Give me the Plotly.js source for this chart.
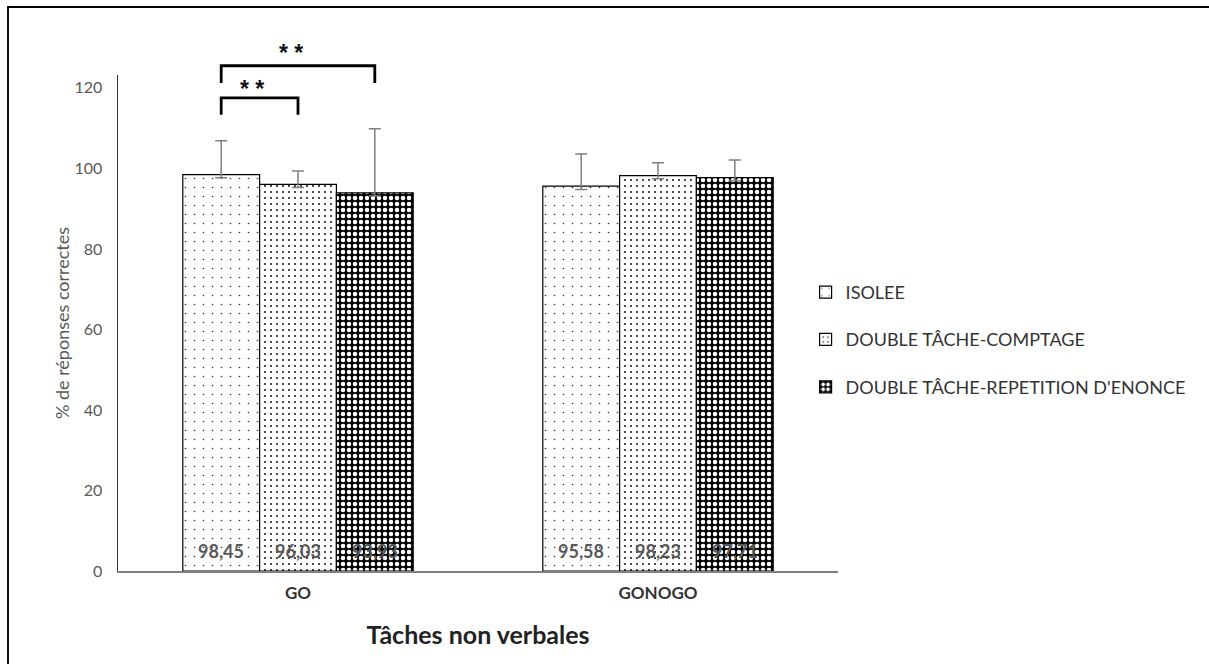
<!DOCTYPE html>
<html>
<head>
<meta charset="utf-8">
<script src="https://cdn.plot.ly/plotly-3.0.1.min.js"></script>
<style>
  body { margin: 0; padding: 0; background: #fff; }
  #wrap { position: relative; width: 1209px; height: 664px; overflow: hidden; }
  #chart { width: 1209px; height: 664px; }
  #frameTop { position: absolute; left: 7px; top: 6px; width: 1202px; height: 2px; background: #000; }
  #frameLeft { position: absolute; left: 7px; top: 6px; width: 2px; height: 658px; background: #111; }
</style>
</head>
<body>
<div id="wrap">
  <div id="chart"></div>
  <div id="frameTop"></div>
  <div id="frameLeft"></div>
</div>
<script>
// ---- data ----
var categories = ["GO", "GONOGO"];
var seriesNames = ["ISOLEE", "DOUBLE TÂCHE-COMPTAGE", "DOUBLE TÂCHE-REPETITION D'ENONCE"];
var isolee = [98.45, 95.58];
var comptage = [96.03, 98.23];
var repetition = [93.93, 97.71];
var errIsolee = [8.4, 8.0];
var errComptage = [3.3, 3.2];
var errRepetition = [15.9, 4.4];
var errMinus = [0.8, 0.8];
var yTicks = [0, 20, 40, 60, 80, 100, 120];
// significance brackets: [firstBarIndex, secondBarIndex, label] in category GO
var sigPairs = [[0, 1, "* *"], [0, 2, "* *"]];

var yMax = 123.2;
var bargap = 0.36;
var nSeries = 3;
var barW = (1 - bargap) / nSeries;
function barCenter(cat, s) { return cat + (s - (nSeries - 1) / 2) * barW; }

var FONT = "Lato, 'Liberation Sans', sans-serif";

var patterns = [
  {shape: ".", size: 9, solidity: 0.025, fgcolor: "#333", bgcolor: "#fff", fillmode: "replace"},
  {shape: ".", size: 6, solidity: 0.09, fgcolor: "#111", bgcolor: "#fff", fillmode: "replace"},
  {shape: ".", size: 6, solidity: 0.45, fgcolor: "#fff", bgcolor: "#000", fillmode: "replace"}
];
var values = [isolee, comptage, repetition];
var errs = [errIsolee, errComptage, errRepetition];

var traces = values.map(function (v, i) {
  return {
    type: "bar",
    name: seriesNames[i],
    x: categories,
    y: v,
    legendgroup: "g" + i,
    marker: {color: "#fff", line: {color: "#000", width: 1.2}, pattern: patterns[i]},
    error_y: {type: "data", symmetric: false, array: errs[i], arrayminus: errMinus,
              color: "#7f7f7f", thickness: 1.5, width: 6},
    hoverinfo: "skip"
  };
});

var annotations = [];
// value labels at the bottom of each bar
values.forEach(function (v, s) {
  v.forEach(function (val, c) {
    annotations.push({xref: "x", yref: "y", x: barCenter(c, s), y: 0, yanchor: "bottom",
      yshift: 7, showarrow: false,
      text: "<b>" + val.toFixed(2).replace(".", ",") + "</b>",
      font: {family: FONT, size: 18, color: "#595959"}});
  });
});

var shapes = [];
var sigLevels = [[113.3, 117.5, 119.6], [121.2, 125.5, 128.6]];
sigPairs.forEach(function (p, k) {
  var x0 = barCenter(0, p[0]), x1 = barCenter(0, p[1]);
  var lv = sigLevels[k];
  var yb = lv[0] / yMax, yt = lv[1] / yMax;
  shapes.push({type: "path", xref: "x", yref: "paper",
    path: "M" + x0 + "," + yb + " L" + x0 + "," + yt + " L" + x1 + "," + yt + " L" + x1 + "," + yb,
    line: {color: "#000", width: 2.8}});
  annotations.push({xref: "x", yref: "paper", x: (x0 + x1) / 2 - 0.02, y: lv[2] / yMax,
    text: "<b>" + p[2] + "</b>", showarrow: false, yanchor: "middle",
    font: {family: "'Liberation Sans', sans-serif", size: 23, color: "#111"}});
});

var layout = {
  width: 1209, height: 664,
  margin: {l: 118, r: 371, t: 75, b: 93},
  paper_bgcolor: "#fff", plot_bgcolor: "#fff",
  separators: ", ",
  barmode: "group",
  bargap: bargap,
  bargroupgap: 0,
  showlegend: true,
  font: {family: FONT, color: "#595959"},
  legend: {x: 0.955, xanchor: "left", y: 0.466, yanchor: "middle",
           font: {family: FONT, size: 18, color: "#333"},
           traceorder: "grouped", tracegroupgap: 21, itemwidth: 30},
  xaxis: {type: "category", showline: true, linecolor: "#7f7f7f", linewidth: 2,
          ticks: "", showgrid: false, zeroline: false,
          tickfont: {family: FONT, size: 17, color: "#333", weight: "bold"},
          ticklabelstandoff: 6,
          title: {text: "<b>Tâches non verbales</b>", font: {family: FONT, size: 25, color: "#222"}, standoff: 24}},
  yaxis: {range: [0, yMax], tickvals: yTicks, showline: true, linecolor: "#333", linewidth: 1.5,
          ticks: "", showgrid: false, zeroline: false,
          tickfont: {family: FONT, size: 16, color: "#595959"},
          ticklabelstandoff: 11,
          title: {text: "% de réponses correctes", font: {family: FONT, size: 18, color: "#595959"}, standoff: 0}},
  shapes: shapes,
  annotations: annotations
};

Plotly.newPlot("chart", traces, layout, {displayModeBar: false, staticPlot: true});
</script>
</body>
</html>
